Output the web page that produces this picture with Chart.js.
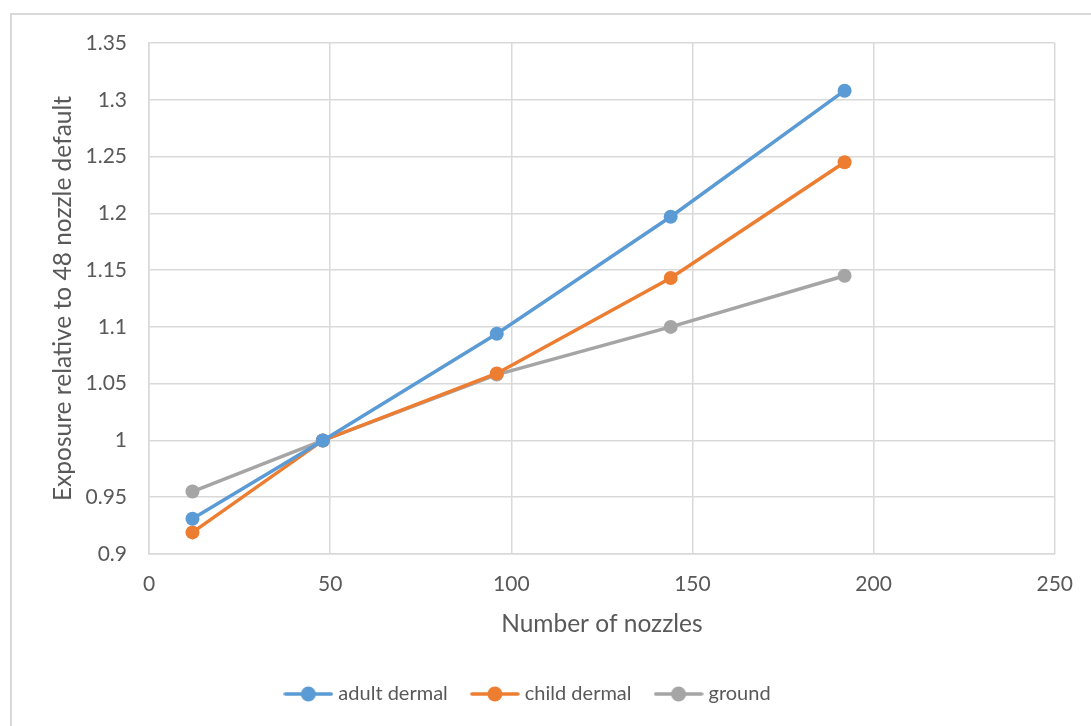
<!DOCTYPE html>
<html>
<head>
<meta charset="utf-8">
<script src="https://cdn.jsdelivr.net/npm/chart.js@4/dist/chart.umd.min.js"></script>
<style>
  html, body { margin: 0; padding: 0; background: #fff; overflow: hidden; }
  #frame { position: absolute; left: 10px; top: 13px; width: 1200px; height: 900px; border: 2px solid #d9d9d9; }
  #wrap { position: absolute; left: 0; top: 0; width: 1091px; height: 726px; }
</style>
</head>
<body>
<div id="frame"></div>
<div id="wrap"><canvas id="chart"></canvas></div>
<script>
const nozzles = [12, 48, 96, 144, 192];
const adultDermal = [0.931, 1.0, 1.094, 1.197, 1.308];
const childDermal = [0.919, 1.0, 1.059, 1.143, 1.245];
const ground = [0.955, 1.0, 1.058, 1.100, 1.145];
const seriesNames = ['adult dermal', 'child dermal', 'ground'];
const seriesColors = ['#5b9bd5', '#ed7d31', '#a5a5a5'];

const textColor = '#595959';
const gridColor = '#d9d9d9';
const fontFamily = 'Lato, "Open Sans", sans-serif';

// little line + dot like the excel legend
function legendIcon(color) {
  const c = document.createElement('canvas');
  c.width = 50;
  c.height = 18;
  const g = c.getContext('2d');
  g.strokeStyle = color;
  g.lineWidth = 3.5;
  g.lineCap = 'round';
  g.beginPath();
  g.moveTo(2, 9);
  g.lineTo(48, 9);
  g.stroke();
  g.fillStyle = color;
  g.beginPath();
  g.arc(25, 9, 7.5, 0, Math.PI * 2);
  g.fill();
  return c;
}

function toPoints(values) {
  return nozzles.map((x, i) => ({ x: x, y: values[i] }));
}

const allSeries = [adultDermal, childDermal, ground];

const datasets = allSeries.map((values, i) => ({
  label: seriesNames[i],
  data: toPoints(values),
  borderColor: seriesColors[i],
  backgroundColor: seriesColors[i],
  borderWidth: 3.5,
  pointRadius: 7,
  pointBorderWidth: 0,
  pointHoverRadius: 7,
  pointStyle: 'circle',
  tension: 0,
}));

const icons = seriesColors.map(legendIcon);

new Chart(document.getElementById('chart').getContext('2d'), {
  type: 'line',
  data: { datasets: datasets },
  options: {
    responsive: true,
    maintainAspectRatio: false,
    animation: false,
    layout: {
      padding: { left: 0, right: 32, top: 43, bottom: 12 },
    },
    plugins: {
      tooltip: { enabled: false },
      legend: {
        position: 'bottom',
        labels: {
          usePointStyle: true,
          pointStyleWidth: 40,
          padding: 27,
          color: textColor,
          font: { family: fontFamily, size: 20 },
          generateLabels: (chart) => chart.data.datasets.map((ds, i) => ({
            text: ds.label,
            pointStyle: icons[i],
            fillStyle: ds.borderColor,
            strokeStyle: ds.borderColor,
            lineWidth: 0,
            fontColor: textColor,
            datasetIndex: i,
            hidden: false,
          })),
        },
      },
    },
    scales: {
      x: {
        type: 'linear',
        min: 0,
        max: 250,
        ticks: {
          stepSize: 50,
          padding: 18,
          color: textColor,
          font: { family: fontFamily, size: 21 },
          maxRotation: 0,
        },
        grid: { color: gridColor, lineWidth: 1.5, drawTicks: false },
        border: { color: gridColor, width: 1.5 },
        title: {
          display: true,
          text: 'Number of nozzles',
          color: textColor,
          font: { family: fontFamily, size: 24.5 },
          padding: { top: 0, bottom: 18 },
        },
        afterFit: (scale) => { scale.height = 103; },
      },
      y: {
        min: 0.9,
        max: 1.35,
        ticks: {
          stepSize: 0.05,
          padding: 22,
          color: textColor,
          font: { family: fontFamily, size: 21 },
          callback: (v) => String(Math.round(v * 100) / 100),
        },
        grid: { color: gridColor, lineWidth: 1.5, drawTicks: false },
        border: { color: gridColor, width: 1.5 },
        title: {
          display: true,
          text: 'Exposure relative to 48 nozzle default',
          color: textColor,
          font: { family: fontFamily, size: 24.5 },
          padding: { top: 48, bottom: 0 },
        },
        afterFit: (scale) => { scale.width = 149; },
      },
    },
  },
});
</script>
</body>
</html>
